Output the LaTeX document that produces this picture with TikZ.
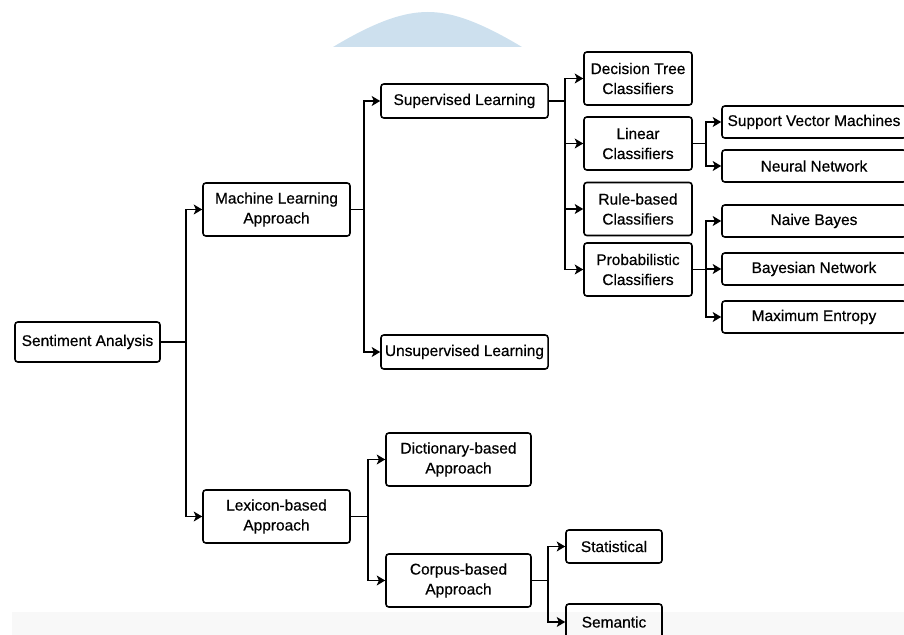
\documentclass[tikz,border=0pt]{standalone}
\usepackage{fontspec}
\setmainfont{Liberation Sans}[FakeBold=0.5]
\usepackage{tikz}
\usetikzlibrary{arrows,arrows.meta,positioning}

\definecolor{capblue}{RGB}{205,224,238}
\definecolor{stripgray}{RGB}{248,248,248}

\begin{document}
\begin{tikzpicture}[x=0.025cm,y=-0.025cm]
\tikzstyle{box}=[draw,rounded corners=2pt,line width=1.1pt,align=center,inner sep=1pt,
  font=\fontsize{11}{14.2}\selectfont]
\tikzstyle{wide}=[box,minimum width=3.675cm,minimum height=1.325cm]
\tikzstyle{cls}=[box,minimum width=2.7cm,minimum height=1.325cm]
\tikzstyle{leaf}=[box,minimum width=4.6cm,minimum height=0.8cm]
\tikzstyle{link}=[line width=1.1pt,-{Stealth[length=6pt,width=7pt,inset=1.5pt]}]
\useasboundingbox (0,0) rectangle (904,635);
% background bits
\fill[capblue] (333,47) .. controls (378,20) and (405,12) .. (428,12)
  .. controls (450,12) and (477,20) .. (522,47) -- cycle;
\fill[stripgray] (12,612) rectangle (904,635);
% level 0 and 1
\node[box,minimum width=3.625cm,minimum height=1cm] (sa) at (87.5,342) {Sentiment Analysis};
\node[wide] (ml) at (276.5,209.5) {Machine Learning\\Approach};
\node[wide] (lex) at (276.5,516.5) {Lexicon-based\\Approach};
% machine learning
\node[box,minimum width=4.175cm,minimum height=0.85cm] (sup) at (464.5,101) {Supervised Learning};
\node[box,minimum width=4.175cm,minimum height=0.85cm] (unsup) at (464.5,352) {Unsupervised Learning};
\node[cls] (dt) at (638,78.5) {Decision Tree\\Classifiers};
\node[cls] (lin) at (638,143.5) {Linear\\Classifiers};
\node[cls] (rule) at (638,209) {Rule-based\\Classifiers};
\node[cls] (prob) at (638,269.5) {Probabilistic\\Classifiers};
\node[leaf] (svm) at (814,122) {Support Vector Machines};
\node[leaf] (nn) at (814,166) {Neural Network};
\node[leaf] (nb) at (814,221) {Naive Bayes};
\node[leaf] (bn) at (814,269) {Bayesian Network};
\node[leaf] (me) at (814,317) {Maximum Entropy};
% lexicon
\node[box,minimum width=3.625cm,minimum height=1.325cm] (dict) at (458.5,459.5) {Dictionary-based\\Approach};
\node[box,minimum width=3.625cm,minimum height=1.325cm] (corp) at (458.5,580.5) {Corpus-based\\Approach};
\node[box,minimum width=2.4cm,minimum height=0.825cm] (stat) at (614,546.5) {Statistical};
\node[box,minimum width=2.4cm,minimum height=0.9cm] (sem) at (614,622) {Semantic};
% connectors
\foreach \a/\b/\x in {sa/ml/186,sa/lex/186,ml/sup/364,ml/unsup/364,
  sup/dt/565,sup/lin/565,sup/rule/565,sup/prob/565,
  lin/svm/706,lin/nn/706,prob/nb/706,prob/bn/706,prob/me/706,
  lex/dict/368,lex/corp/368,corp/stat/548,corp/sem/548}
  \draw[link] (\a.east) -| (\x,0 |- \b.west) -- (\b.west);
\end{tikzpicture}
\end{document}
